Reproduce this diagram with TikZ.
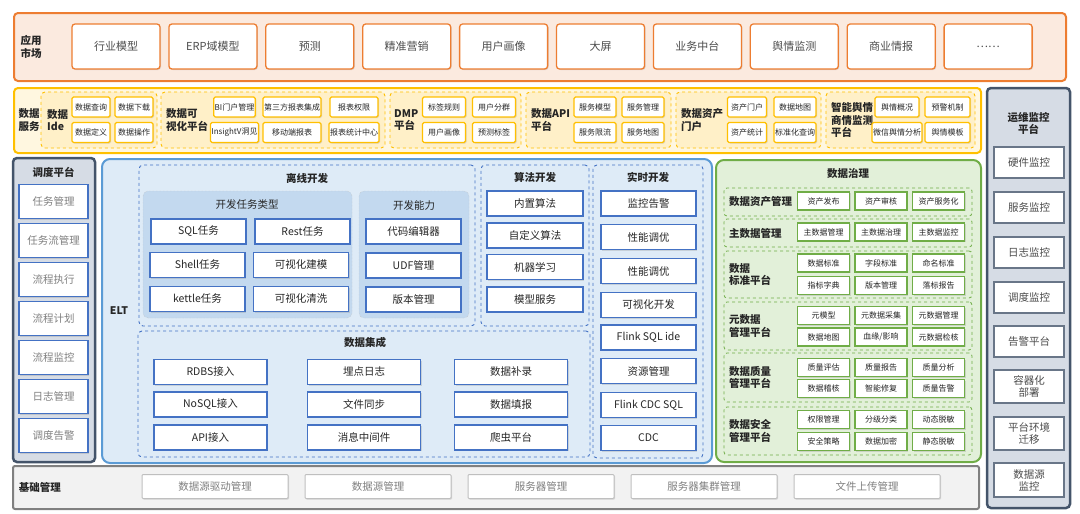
\documentclass[tikz,border=0pt]{standalone}
\usepackage{fontspec}
\setmainfont{Noto Sans CJK SC}
\usetikzlibrary{fit,shadows}

\definecolor{appline}{HTML}{ED7D31}
\definecolor{appbg}{HTML}{FBEADF}
\definecolor{svcline}{HTML}{FFC000}
\definecolor{svcbg}{HTML}{FFF7E0}
\definecolor{svcgrp}{HTML}{FFF0C8}
\definecolor{opsline}{HTML}{44546A}
\definecolor{opsbg}{HTML}{D6DCE5}
\definecolor{eltline}{HTML}{5B9BD5}
\definecolor{eltbg}{HTML}{DEEBF7}
\definecolor{eltdash}{HTML}{4472C4}
\definecolor{eltpanel}{HTML}{C3D9EF}
\definecolor{govline}{HTML}{70AD47}
\definecolor{govbg}{HTML}{E2F0D9}
\definecolor{baseln}{HTML}{808080}
\definecolor{basebg}{HTML}{F2F2F2}
\definecolor{inktext}{HTML}{262626}

\begin{document}
\begin{tikzpicture}[x=1pt, y=-1pt,
  band/.style={draw, line width=2pt, rounded corners=4pt, inner sep=0pt},
  grp/.style={draw, dashed, line width=0.9pt, rounded corners=4pt, inner sep=0pt},
  panel/.style={draw=black!25, densely dotted, fill=eltpanel, rounded corners=5pt, inner sep=0pt},
  cell/.style={draw, fill=white, align=center, inner sep=1pt, text=inktext,
    drop shadow={shadow xshift=1pt, shadow yshift=-1pt, opacity=0.25}},
  appbox/.style={cell, draw=appline, line width=1.3pt, rounded corners=3pt, minimum width=88pt, minimum height=45pt, font=\fontsize{11}{13}\selectfont, text=black!70},
  svcbox/.style={cell, draw=svcline, line width=1.2pt, rounded corners=1.5pt, minimum height=20pt, font=\fontsize{8}{9}\selectfont},
  eltbox/.style={cell, draw=eltdash, line width=1.2pt, minimum height=25pt, font=\fontsize{10.5}{12}\selectfont},
  govbox/.style={cell, draw=govline, line width=1.2pt, minimum width=52pt, minimum height=18pt, font=\fontsize{8}{9}\selectfont},
  opsbox/.style={cell, draw=opsline!80, line width=1.2pt, minimum width=70pt, font=\fontsize{10.5}{12}\selectfont, text=black!70},
  schedbox/.style={cell, draw=eltdash, line width=1.2pt, minimum width=69pt, minimum height=34pt, font=\fontsize{10.5}{12}\selectfont, text=black!50},
  basebox/.style={cell, draw=black!25, line width=1pt, rounded corners=1pt, minimum width=146pt, minimum height=24pt, font=\fontsize{10.5}{12}\selectfont, text=black!50},
  head/.style={font=\bfseries\fontsize{10.5}{12.5}\selectfont, text=inktext, align=left, inner sep=0pt},
  sub/.style={font=\fontsize{10.5}{12}\selectfont, text=inktext, inner sep=0pt}
]
\useasboundingbox (0,0) rectangle (1080,514);

% application market
\node[band, draw=appline, fill=appbg, fit={(14,13) (1066,81)}] (appband) {};
\node[head] (applabel) at (31,47) {应用\\市场};
\foreach \t [count=\i from 0] in {行业模型,ERP域模型,预测,精准营销,用户画像,大屏,业务中台,舆情监测,商业情报,……}
  \node[appbox] (app\i) at ({116+96.9*\i},46.5) {\t};

% data services
\node[band, draw=svcline, fill=svcbg, fit={(14,88) (981,153)}] (svcband) {};
\node[head] (svclabel) at (29,120) {数据\\服务};
\foreach \a/\b/\n in {41/157/ide, 161/385/vis, 390/521/dmp, 526/671/api, 676/821/asset, 826/975/yq}
  \node[grp, draw=svcline, fill=svcgrp, fit={(\a,92) (\b,148)}] (\n) {};
\node[head, anchor=west] (idelabel) at (47,120) {数据\\Ide};
\node[head, anchor=west] (vislabel) at (166,120) {数据可\\视化平台};
\node[head, anchor=west] (dmplabel) at (394,120) {DMP\\平台};
\node[head, anchor=west] (apilabel) at (531,120) {数据API\\平台};
\node[head, anchor=west] (assetlabel) at (681,120) {数据资产\\门户};
\node[head, anchor=west] (yqlabel) at (831,120) {智能舆情\\商情监测\\平台};
\foreach \x/\w/\y/\t [count=\i] in {
  91/38/107/数据查询, 134/38/107/数据下载, 91/38/132.5/数据定义, 134/38/132.5/数据操作,
  234.5/41/107/BI门户管理, 292/58/107/第三方报表集成, 354/48/107/报表权限,
  234.5/41/132.5/InsightV洞见, 292/58/132.5/移动端报表, 354/48/132.5/报表统计中心,
  444/43/107/标签规则, 494/43/107/用户分群, 444/43/132.5/用户画像, 494/43/132.5/预测标签,
  595/42/107/服务模型, 643/42/107/服务管理, 595/42/132.5/服务限流, 643/42/132.5/服务地图,
  747/39/107/资产门户, 795/42/107/数据地图, 747/39/132.5/资产统计, 795/42/132.5/标准化查询,
  897/44/107/舆情概况, 947.5/45/107/预警机制, 897/44/132.5/微信舆情分析, 947.5/45/132.5/舆情模板}
  \node[svcbox, minimum width=\w pt] (svc\i) at (\x,\y) {\t};

% operations monitoring
\node[band, draw=opsline, fill=opsbg, line width=2.5pt, fit={(987,88) (1070,508)}] (opsband) {};
\node[head, align=center] (opslabel) at (1028.5,123.5) {运维监控\\平台};
\foreach \y/\h/\t [count=\i] in {162.5/31/硬件监控, 207.5/31/服务监控, 252.5/31/日志监控, 297.5/31/调度监控,
  341.5/31/告警平台, 386.5/33/容器化\\部署, 433.5/33/平台环境\\迁移, 480/34/数据源\\监控}
  \node[opsbox, minimum height=\h pt] (ops\i) at (1029,\y) {\t};

% scheduling platform
\node[band, draw=opsline, fill=opsbg, line width=2.5pt, fit={(13,158) (95,462)}] (schedband) {};
\node[head] (schedlabel) at (53.5,172) {调度平台};
\foreach \t [count=\i from 0] in {任务管理,任务流管理,流程执行,流程计划,流程监控,日志管理,调度告警}
  \node[schedbox] (sched\i) at (53.5,{201.5+39*\i}) {\t};

% ELT
\node[band, draw=eltline, fill=eltbg, rounded corners=8pt, fit={(102,159) (712,463)}] (elt) {};
\node[head] (eltlabel) at (119,311) {ELT};
\node[grp, draw=eltdash, fit={(139,165) (475,326)}] (offline) {};
\node[grp, draw=eltdash, fit={(481,165) (589,326)}] (algo) {};
\node[grp, draw=eltdash, fit={(593,165) (703,458)}] (realtime) {};
\node[grp, draw=eltdash, fit={(138,331) (590,457)}] (integ) {};
\node[head] (offlinelabel) at (307,178) {离线开发};
\node[head] (algolabel) at (535,177) {算法开发};
\node[head] (realtimelabel) at (648,177) {实时开发};
\node[head] (integlabel) at (365,342) {数据集成};
\node[panel, fit={(143,191) (352,318)}] (tasktype) {};
\node[panel, fit={(359,191) (469,318)}] (ability) {};
\node[sub] (tasktypelabel) at (247,205) {开发任务类型};
\node[sub] (abilitylabel) at (414,206) {开发能力};
\foreach \x/\y/\t [count=\i] in {198.5/231.5/SQL任务, 302.5/231.5/Rest任务, 197.5/265/Shell任务,
  301/265/可视化建模, 197.5/299/kettle任务, 301/299/可视化清洗,
  413.5/231.5/代码编辑器, 413.5/265.5/UDF管理, 413.5/299.5/版本管理}
  \node[eltbox, minimum width=95pt] (dev\i) at (\x,\y) {\t};
\foreach \y/\t [count=\i] in {203.5/内置算法, 235.5/自定义算法, 267/机器学习, 299.5/模型服务}
  \node[eltbox, minimum width=96pt] (algo\i) at (535,\y) {\t};
\foreach \y/\t [count=\i] in {203.5/监控告警, 237/性能调优, 271/性能调优, 305/可视化开发,
  337.5/Flink SQL ide, 371/资源管理, 405/Flink CDC SQL, 438/CDC}
  \node[eltbox, minimum width=95pt] (rt\i) at (648.5,\y) {\t};
\foreach \x/\y/\t [count=\i] in {210.5/372/RDBS接入, 364/372/埋点日志, 511/372/数据补录,
  210.5/404.5/NoSQL接入, 364/404.5/文件同步, 511/404.5/数据填报,
  210.5/437.5/API接入, 364/437.5/消息中间件, 511/437.5/爬虫平台}
  \node[eltbox, minimum width=113pt] (integ\i) at (\x,\y) {\t};

% data governance
\node[band, draw=govline, fill=govbg, rounded corners=8pt, fit={(716,160) (981,462)}] (gov) {};
\node[head] (govlabel) at (848,174) {数据治理};
\foreach \a/\b/\n in {188/216/govasset, 219/247/govmaster, 251/298/govstd, 302/350/govmeta, 353/402/govquality, 407/455/govsafe}
  \node[grp, draw=govline, line width=0.8pt, rounded corners=3pt, fit={(724,\a) (972,\b)}] (\n) {};
\foreach \y/\t [count=\i] in {202/数据资产管理, 233/主数据管理, 274.5/数据\\标准平台, 326/元数据\\管理平台,
  377.5/数据质量\\管理平台, 431/数据安全\\管理平台}
  \node[head, anchor=west] (govhead\i) at (729,\y) {\t};
\foreach \y/\ta/\tb/\tc [count=\i] in {201/资产发布/资产审核/资产服务化, 232/主数据管理/主数据治理/主数据监控,
  263/数据标准/字段标准/命名标准, 285.5/指标字典/版本管理/落标报告,
  315.5/元模型/元数据采集/元数据管理, 337/数据地图/{血缘/影响}/元数据检核,
  367.5/质量评估/质量报告/质量分析, 388.5/数据稽核/智能修复/质量告警,
  419.5/权限管理/分级分类/动态脱敏, 441.5/安全策略/数据加密/静态脱敏} {
  \node[govbox] (gova\i) at (823.5,\y) {\ta};
  \node[govbox] (govb\i) at (881,\y) {\tb};
  \node[govbox] (govc\i) at (938.5,\y) {\tc};
}

% base management
\node[band, draw=baseln, fill=basebg, rounded corners=2pt, fit={(13,466) (979,509)}] (base) {};
\node[head] (baselabel) at (40,487) {基础管理};
\foreach \t [count=\i from 0] in {数据源驱动管理,数据源管理,服务器管理,服务器集群管理,文件上传管理}
  \node[basebox] (base\i) at ({215+163*\i},486.5) {\t};
\end{tikzpicture}
\end{document}
